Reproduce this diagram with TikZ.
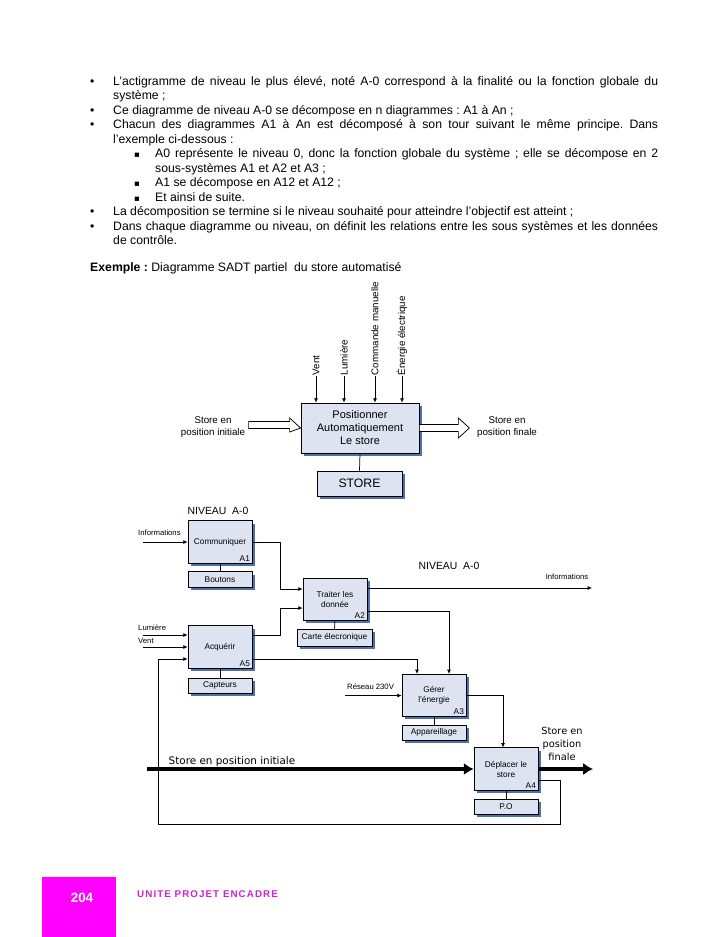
\documentclass[tikz,border=0pt]{standalone}
\usepackage{fontspec}
\setmainfont{Liberation Sans}
\newfontfamily\dejavu{DejaVu Sans}
\newfontfamily\footfont[LetterSpace=11]{Liberation Sans}
\usetikzlibrary{arrows.meta,calc,shadows}
\frenchspacing

\definecolor{boxfill}{HTML}{DDE3F1}
\definecolor{boxshadow}{HTML}{4F70A8}
\definecolor{pagemagenta}{HTML}{FF00FF}
\definecolor{footmagenta}{HTML}{CC22CC}

\newcommand{\jline}[2]{\makebox[#1][s]{#2}}

\tikzset{
  sbox/.style={draw, line width=0.6pt, fill=boxfill, inner sep=0pt, align=center,
    drop shadow={shadow xshift=2.2pt, shadow yshift=-2.2pt, fill=boxshadow, opacity=1}},
  actbox/.style={sbox, minimum width=52.3pt, minimum height=34.6pt, font=\fontsize{6.8}{8.2}\selectfont},
  mecabox/.style={sbox, minimum width=52.3pt, minimum height=12.5pt, font=\fontsize{6.8}{8}\selectfont},
  idlbl/.style={anchor=south east, inner sep=1.8pt, font=\fontsize{6.8}{8}\selectfont},
  smalllbl/.style={inner sep=0pt, font=\fontsize{6.3}{7.5}\selectfont},
  ctrl/.style={rotate=90, anchor=west, inner sep=0.5pt, font=\fontsize{8}{9}\selectfont},
  lbl/.style={inner sep=0pt, align=center, font=\fontsize{8}{9.8}\selectfont},
  txt/.style={anchor=base west, inner sep=0pt, font=\fontsize{10}{12}\selectfont},
  arr/.style={line width=0.6pt, -{Latex[length=3.5pt,width=3.2pt]}},
  fat/.style={line width=3pt, -{Latex[length=8pt,width=10pt]}},
}

\begin{document}
\begin{tikzpicture}[x=0.8177pt, y=-0.8177pt]
    \useasboundingbox (0,0) rectangle (728,937);

    % Text of the page
    \node[txt] at (90,85) {•};
    \node[txt] at (113,85) {\jline{445.6pt}{L'actigramme de niveau le plus élevé, noté A-0 correspond à la finalité ou la fonction globale du}};
    \node[txt] at (113,99.5) {système ;};
    \node[txt] at (90,114) {•};
    \node[txt] at (113,114) {Ce diagramme de niveau A-0 se décompose en n diagrammes : A1 à An ;};
    \node[txt] at (90,128.5) {•};
    \node[txt] at (113,128.5) {\jline{445.6pt}{Chacun des diagrammes A1 à An est décomposé à son tour suivant le même principe. Dans}};
    \node[txt] at (113,143) {l'exemple ci-dessous :};
    \node[txt] at (134,157.5) {\dejavu\fontsize{7}{8}\selectfont ▪};
    \node[txt] at (155,157.5) {\jline{411.3pt}{A0 représente le niveau 0, donc la fonction globale du système ; elle se décompose en 2}};
    \node[txt] at (155,172) {sous-systèmes A1 et A2 et A3 ;};
    \node[txt] at (134,186.5) {\dejavu\fontsize{7}{8}\selectfont ▪};
    \node[txt] at (155,186.5) {A1 se décompose en A12 et A12 ;};
    \node[txt] at (134,201) {\dejavu\fontsize{7}{8}\selectfont ▪};
    \node[txt] at (155,201) {Et ainsi de suite.};
    \node[txt] at (90,215.5) {•};
    \node[txt] at (113,215.5) {La décomposition se termine si le niveau souhaité pour atteindre l'objectif est atteint ;};
    \node[txt] at (90,230) {•};
    \node[txt] at (113,230) {\jline{445.6pt}{Dans chaque diagramme ou niveau, on définit les relations entre les sous systèmes et les données}};
    \node[txt] at (113,244.5) {de contrôle.};
    \node[txt] at (90,271) {\textbf{Exemple :} Diagramme SADT partiel\ \ du store automatisé};

    % Niveau A-0
    \node[sbox, minimum width=96.5pt, minimum height=40.9pt, font=\fontsize{9}{10.6}\selectfont] (pos) at (360,428) {Positionner\\Automatiquement\\Le store};
    \node[sbox, minimum width=69.5pt, minimum height=20.4pt, font=\fontsize{10}{12}\selectfont] (store) at (359.5,483.5) {STORE};
    \draw[line width=0.6pt] (pos.south) -- (store.north);
    \foreach \name/\x/\txt in {vent/316/Vent, lum/344/Lumière, cmd/375/Commande manuelle, ener/402/Énergie électrique}{
        \node[ctrl] (\name) at (\x,376) {\txt};
        \draw[arr] (\name.west) -- (\name.west |- pos.north);
    }
    \draw[line width=0.6pt, fill=white] (pos.west) -- ++(-11,-10) -- ++(0,3.5) -- ++(-41,0) -- ++(0,7) -- ++(41,0) -- ++(0,3.5) -- cycle;
    \draw[line width=0.6pt, fill=white] ($(pos.east)+(0,-3.5)$) -- ++(39,0) -- ++(0,-6.5) -- ++(11,10) -- ++(-11,10) -- ++(0,-6.5) -- ++(-39,0) -- cycle;
    \node[lbl] (sinlbl) at (213,427) {Store en\\position initiale};
    \node[lbl] (sfinlbl) at (507,427) {Store en\\position finale};

    % Niveau A0 : les fonctions
    \node[font=\fontsize{8.5}{10}\selectfont] (niv1) at (218,511) {NIVEAU\ \ A-0};
    \node[font=\fontsize{8.5}{10}\selectfont] (niv2) at (449,566) {NIVEAU\ \ A-0};

    \node[actbox] (a1) at (220,542) {Communiquer};
    \node[idlbl] at (a1.south east) {A1};
    \node[mecabox] (boutons) at (220,579.5) {Boutons};
    \draw[line width=0.6pt] (a1.south) -- (boutons.north);

    \node[actbox] (a2) at (335,599.5) {Traiter les\\donnée};
    \node[idlbl] at (a2.south east) {A2};
    \node[mecabox, minimum width=61.3pt, minimum height=13.9pt] (carte) at (334.5,637.5) {Carte élecronique};
    \draw[line width=0.6pt] (a2.south) -- (carte.north);

    \node[actbox] (a5) at (220,647) {Acquérir};
    \node[idlbl] at (a5.south east) {A5};
    \node[mecabox] (capteurs) at (220,685.5) {Capteurs};
    \draw[line width=0.6pt] (a5.south) -- (capteurs.north);

    \node[actbox] (a3) at (434,695.5) {Gérer\\l'énergie};
    \node[idlbl] at (a3.south east) {A3};
    \node[mecabox] (appar) at (434,732.5) {Appareillage};
    \draw[line width=0.6pt] (a3.south) -- (appar.north);

    \node[actbox] (a4) at (506,769) {Déplacer le\\store};
    \node[idlbl] at (a4.south east) {A4};
    \node[mecabox] (po) at (506,807) {P.O};
    \draw[line width=0.6pt] (a4.south) -- (po.north);

    % Entrees
    \coordinate (infin) at (143,542);
    \coordinate (lumin) at (143,635);
    \coordinate (ventin) at (143,647);
    \coordinate (resin) at (345,695.5);
    \node[smalllbl, anchor=west] at (138,533) {Informations};
    \node[smalllbl, anchor=west] at (138,628) {Lumière};
    \node[smalllbl, anchor=west] at (138,641) {Vent};
    \node[smalllbl, anchor=west] at (347,687) {Réseau 230V};
    \draw[arr] (infin) -- (a1.west);
    \draw[arr] (lumin) -- ($(a5.west)+(0,-12)$);
    \draw[arr] (ventin) -- (a5.west);
    \draw[arr] (resin) -- (a3.west);

    % Liaisons
    \draw[arr] (a1.east) -- ++(28,0) |- ($(a2.west)+(0,-10.5)$);
    \draw[arr] ($(a5.east)+(0,-12)$) -- ++(28,0) |- ($(a2.west)+(0,8.5)$);
    \draw[arr] ($(a5.east)+(0,12)$) -| ($(a3.north)+(-17,0)$);
    \draw[arr] ($(a2.east)+(0,11.5)$) -| ($(a3.north)+(15,0)$);
    \draw[arr] (a3.east) -| ($(a4.north)+(-3,0)$);
    \coordinate (infout) at (592,588);
    \draw[arr] ($(a2.east)+(0,-11.5)$) -- (infout);
    \node[smalllbl] at (567,577) {Informations};

    % Retour
    \coordinate (fbr) at (560,824);
    \coordinate (fbl) at (158,824);
    \draw[arr] ($(a4.east)+(0,11)$) -| (fbr) -- (fbl) |- ($(a5.west)+(0,12)$);

    % Matiere d'oeuvre
    \coordinate (sinit) at (147,769);
    \coordinate (sfin) at (593,769);
    \draw[fat] (sinit) -- (a4.west);
    \draw[fat] (a4.east) -- (sfin);
    \node[inner sep=0pt, font=\dejavu\fontsize{8.5}{10}\selectfont] at (232,762) {Store en position initiale};
    \node[inner sep=0pt, align=center, font=\dejavu\fontsize{8}{10.6}\selectfont] at (562,744) {Store en\\position\\finale};

    % Pied de page
    \fill[pagemagenta] (42,877) rectangle (116,937);
    \node[text=white, font=\bfseries\fontsize{11}{13}\selectfont] at (82,898) {204};
    \node[anchor=west, inner sep=0pt, text=footmagenta, font=\footfont\bfseries\fontsize{8}{10}\selectfont] at (137,894) {UNITE PROJET ENCADRE};
\end{tikzpicture}
\end{document}
